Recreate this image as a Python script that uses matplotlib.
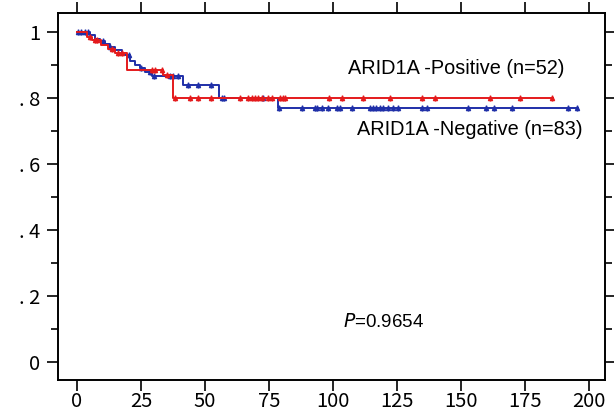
import numpy as np
import matplotlib
matplotlib.use("Agg")
import matplotlib.pyplot as plt
from matplotlib.ticker import MultipleLocator, FixedLocator

# Kaplan-Meier steps (time, survival after the step)
pos_t = [0, 4, 6, 9.5, 12, 15, 19.5, 33.6, 37.5]
pos_s = [1.0, 0.985, 0.975, 0.962, 0.95, 0.937, 0.885, 0.87, 0.80]
pos_end = 186

neg_t = [0, 5, 7, 9, 11, 13, 15, 17.5, 20.7, 22.5, 24.5, 26.5, 29.5, 41.5, 55.5, 78.5]
neg_s = [1.0, 0.99, 0.98, 0.972, 0.963, 0.955, 0.945, 0.93, 0.912, 0.9, 0.89, 0.878, 0.867, 0.84, 0.80, 0.77]
neg_end = 196

# censored times
pos_cens = [5, 7, 8, 13.7, 16, 17.6, 29.3, 30.5, 33.2, 35, 38.3, 44.1, 47.3, 52.3,
            63.7, 66.8, 68.4, 69.5, 70.7, 72.5, 74.6, 76.2, 79.5, 80.5, 81.5,
            98.4, 103.5, 111.7, 122.3, 135, 140, 161.5, 173, 185.5]
neg_cens = [0.5, 1.5, 3, 4.5, 10, 13, 20.5, 25, 28.5, 30, 36.5, 37.5, 39.5, 43.4, 47.3, 52.3,
            56.5, 57.5, 72.7, 78.8, 88, 93, 94, 95.7, 98, 101.6, 102.7, 107.4,
            114.5, 115.6, 117, 118.4, 119.5, 121.5, 123.4, 125.4, 134.8, 137,
            152.7, 160, 163, 170, 192, 195.3]

labels_pos = "ARID1A -Positive (n=52)"
labels_neg = "ARID1A -Negative (n=83)"
p_text = "=0.9654"

red = "#e41a1c"
blue = "#1f2fa8"

plt.rcParams['font.family'] = ['Noto Sans CJK JP', 'DejaVu Sans']

fig = plt.figure(figsize=(6.14, 4.17), dpi=100)
ax = fig.add_axes([0.0945, 0.089, 0.8905, 0.880])


def surv_at(ts, ss, x):
    idx = np.searchsorted(ts, x, side='right') - 1
    return np.array(ss)[idx]


for ts, ss, end, cens, col in [(neg_t, neg_s, neg_end, neg_cens, blue),
                               (pos_t, pos_s, pos_end, pos_cens, red)]:
    xs = list(ts) + [end]
    ys = list(ss) + [ss[-1]]
    ax.step(xs, ys, where='post', color=col, lw=1.4)
    c = np.array(cens)
    ax.plot(c, surv_at(ts, ss, c), ls='none', marker='^', ms=3.0, color=col, mec=col)
    ax.plot(c, surv_at(ts, ss, c), ls='none', marker='|', ms=4.5, mew=1.0, color=col)

ax.set_xlim(-7.4, 206.3)
ax.set_ylim(-0.055, 1.058)

ax.xaxis.set_major_locator(MultipleLocator(25))
ax.yaxis.set_major_locator(FixedLocator([0, 0.2, 0.4, 0.6, 0.8, 1.0]))
ax.yaxis.set_minor_locator(FixedLocator([0.1, 0.3, 0.5, 0.7, 0.9]))
ax.set_yticklabels(["0", ". 2", ". 4", ". 6", ". 8", "1"])

ax.tick_params(axis='both', which='major', direction='out', length=8, width=1.2,
               labelsize=14.5, top=True, right=True)
ax.tick_params(axis='x', which='major', pad=0)
ax.tick_params(axis='y', which='major', pad=5)
ax.tick_params(axis='y', which='minor', direction='out', length=5, width=1.2, right=True)
for sp in ax.spines.values():
    sp.set_linewidth(1.4)

ax.text(105.9, 0.89, labels_pos, fontsize=14.3, va='center', family='Liberation Sans')
ax.text(109.4, 0.703, labels_neg, fontsize=14.3, va='center', family='Liberation Sans')
ax.text(104, 0.121, "$\\it{P}$" + p_text, fontsize=13.5, va='center', family='Liberation Sans')

fig.savefig("out.png", dpi=100)
